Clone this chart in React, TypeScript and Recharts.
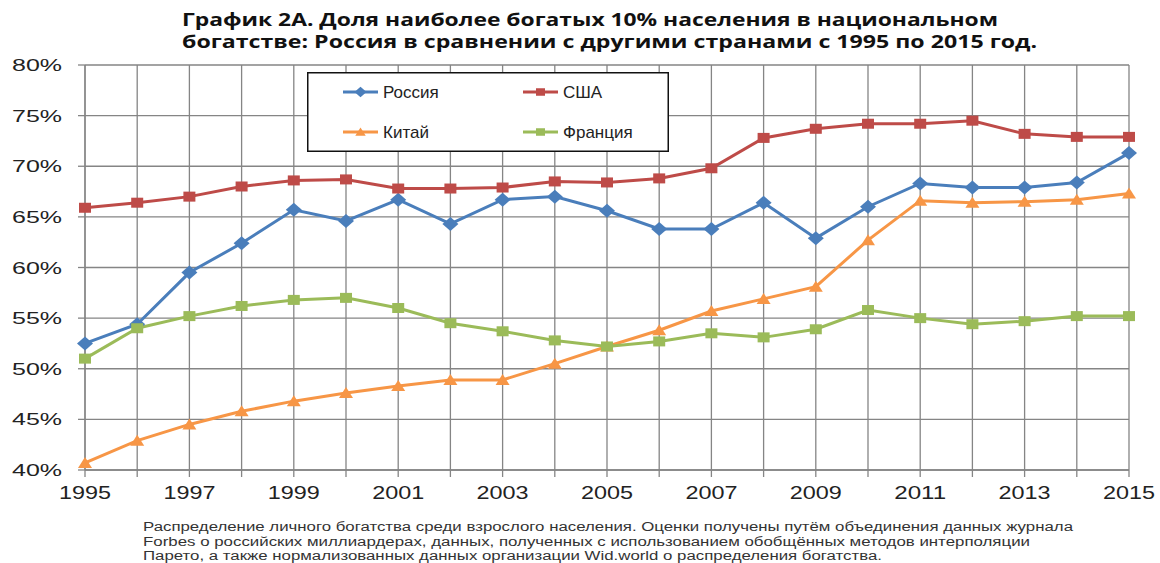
import { LineChart, Line, XAxis, YAxis, CartesianGrid } from "recharts";

const years = [1995, 1996, 1997, 1998, 1999, 2000, 2001, 2002, 2003, 2004, 2005, 2006, 2007, 2008, 2009, 2010, 2011, 2012, 2013, 2014, 2015];
const yTicks = [40, 45, 50, 55, 60, 65, 70, 75, 80];

const russia = [52.5, 54.4, 59.5, 62.4, 65.7, 64.6, 66.7, 64.3, 66.7, 67.0, 65.6, 63.8, 63.8, 66.4, 62.9, 66.0, 68.3, 67.9, 67.9, 68.4, 71.3];
const usa = [65.9, 66.4, 67.0, 68.0, 68.6, 68.7, 67.8, 67.8, 67.9, 68.5, 68.4, 68.8, 69.8, 72.8, 73.7, 74.2, 74.2, 74.5, 73.2, 72.9, 72.9];
const china = [40.7, 42.9, 44.5, 45.8, 46.8, 47.6, 48.3, 48.9, 48.9, 50.5, 52.2, 53.8, 55.7, 56.9, 58.1, 62.7, 66.6, 66.4, 66.5, 66.7, 67.3];
const france = [51.0, 54.0, 55.2, 56.2, 56.8, 57.0, 56.0, 54.5, 53.7, 52.8, 52.2, 52.7, 53.5, 53.1, 53.9, 55.8, 55.0, 54.4, 54.7, 55.2, 55.2];

const titleLines = [
  "График 2А. Доля наиболее богатых 10% населения в национальном",
  "богатстве: Россия в сравнении с другими странами с 1995 по 2015 год.",
];
const noteLines = [
  "Распределение личного богатства среди взрослого населения. Оценки получены путём объединения данных журнала",
  "Forbes о российских миллиардерах, данных, полученных с использованием обобщённых методов интерполяции",
  "Парето, а также нормализованных данных организации Wid.world о распределения богатства.",
];

const data = years.map((year, i) => ({
  year,
  russia: russia[i],
  usa: usa[i],
  china: china[i],
  france: france[i],
}));

type Shape = "diamond" | "square" | "triangle";

const series: { key: string; name: string; color: string; shape: Shape }[] = [
  { key: "russia", name: "Россия", color: "#4a7ebb", shape: "diamond" },
  { key: "usa", name: "США", color: "#be4b48", shape: "square" },
  { key: "china", name: "Китай", color: "#f79646", shape: "triangle" },
  { key: "france", name: "Франция", color: "#9bbb59", shape: "square" },
];

const font = "'Liberation Sans', Arial, sans-serif";
const gridColor = "#858585";

const marker = (shape: Shape, cx: number, cy: number, color: string, s = 1) => {
  if (shape === "diamond") {
    return <path d={`M${cx - 8 * s},${cy} L${cx},${cy - 7 * s} L${cx + 8 * s},${cy} L${cx},${cy + 7 * s} Z`} fill={color} />;
  }
  if (shape === "triangle") {
    return <path d={`M${cx - 7 * s},${cy + 5 * s} L${cx},${cy - 6 * s} L${cx + 7 * s},${cy + 5 * s} Z`} fill={color} />;
  }
  return <rect x={cx - 6 * s} y={cy - 5 * s} width={12 * s} height={10 * s} fill={color} />;
};

const makeDot = (shape: Shape, color: string) => (props: any) => {
  const { cx, cy, index } = props;
  return <g key={`d-${index}`}>{marker(shape, cx, cy, color)}</g>;
};

const XTick = ({ x, y, payload }: any) => {
  if (payload.value % 2 === 0) return <g />;
  return (
    <text x={x} y={y + 20} textAnchor="middle" fontFamily={font} fontSize={18} fill="#222" textLength={52} lengthAdjust="spacingAndGlyphs">
      {payload.value}
    </text>
  );
};

const YTick = ({ x, y, payload }: any) => (
  <text x={x} y={y + 6} textAnchor="end" fontFamily={font} fontSize={17} fill="#222" textLength={50} lengthAdjust="spacingAndGlyphs">
    {`${payload.value}%`}
  </text>
);

const LegendBox = () => (
  <svg width={362} height={80} style={{ position: "absolute", left: 307, top: 72 }}>
    <rect x={0.75} y={0.75} width={360.5} height={78.5} fill="#fff" stroke="#111" strokeWidth={1.5} />
    {series.map((s, i) => {
      const col = i % 2;
      const row = Math.floor(i / 2);
      const x0 = col === 0 ? 36 : 216;
      const cy = row === 0 ? 20 : 60;
      return (
        <g key={s.key}>
          <line x1={x0} x2={x0 + 35} y1={cy} y2={cy} stroke={s.color} strokeWidth={3} />
          {marker(s.shape, x0 + 17.5, cy, s.color, 0.75)}
          <text x={x0 + 40} y={cy + 6} fontFamily={font} fontSize={17} fill="#222">
            {s.name}
          </text>
        </g>
      );
    })}
  </svg>
);

export default function App() {
  return (
    <div style={{ position: "absolute", left: 0, top: 0, width: 1160, height: 563, background: "#fff", overflow: "hidden" }}>
      <LineChart width={1160} height={563} data={data} margin={{ top: 65, right: 31, bottom: 53, left: 0 }}>
        <CartesianGrid stroke={gridColor} strokeWidth={1.3} />
        <XAxis
          dataKey="year"
          type="number"
          domain={[1995, 2015]}
          ticks={years}
          interval={0}
          height={40}
          tickSize={7}
          tickMargin={2}
          tick={<XTick />}
          axisLine={{ stroke: gridColor, strokeWidth: 1.3 }}
          tickLine={{ stroke: gridColor, strokeWidth: 1.3 }}
        />
        <YAxis
          type="number"
          domain={[40, 80]}
          ticks={yTicks}
          interval={0}
          width={85}
          tickSize={7}
          tickMargin={16}
          tick={<YTick />}
          axisLine={{ stroke: gridColor, strokeWidth: 1.3 }}
          tickLine={{ stroke: gridColor, strokeWidth: 1.3 }}
        />
        {series.map((s) => (
          <Line
            key={s.key}
            type="linear"
            dataKey={s.key}
            name={s.name}
            stroke={s.color}
            strokeWidth={3}
            dot={makeDot(s.shape, s.color)}
            activeDot={false}
            isAnimationActive={false}
          />
        ))}
      </LineChart>
      <LegendBox />
      <svg width={1160} height={563} style={{ position: "absolute", left: 0, top: 0, pointerEvents: "none" }}>
        <text x={182} y={26} fontFamily="'Open Sans', sans-serif" fontWeight={700} fontSize={17} fill="#111" textLength={816} lengthAdjust="spacingAndGlyphs">
          {titleLines[0]}
        </text>
        <text x={182} y={48} fontFamily="'Open Sans', sans-serif" fontWeight={700} fontSize={17} fill="#111" textLength={855} lengthAdjust="spacingAndGlyphs">
          {titleLines[1]}
        </text>
        {noteLines.map((t, i) => (
          <text key={i} x={143} y={531 + i * 14.5} fontFamily={font} fontSize={12.5} fill="#333" textLength={[930, 887, 739][i]} lengthAdjust="spacingAndGlyphs">
            {t}
          </text>
        ))}
      </svg>
    </div>
  );
}
